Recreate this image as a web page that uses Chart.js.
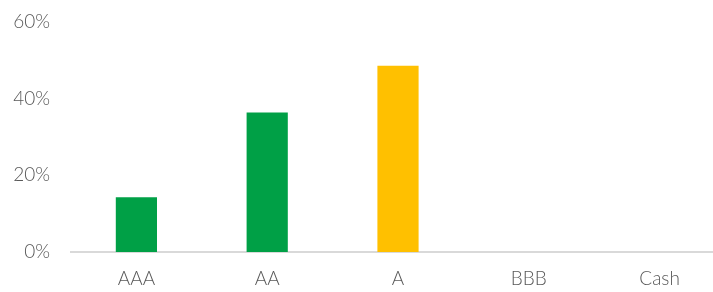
<!DOCTYPE html>
<html>
<head>
<meta charset="utf-8">
<script src="https://cdn.jsdelivr.net/npm/chart.js@4"></script>
<style>
  html, body { margin: 0; padding: 0; background: #fff; overflow: hidden; }
  #wrap { position: relative; width: 725px; height: 292px; }
</style>
</head>
<body>
<div id="wrap"><canvas id="ratings"></canvas></div>
<script>
// ── Data ─────────────────────────────────────────────────────
const categories = ["AAA", "AA", "A", "BBB", "Cash"];
const weights = [14.3, 36.4, 48.6, 0, 0];
const barColors = ["#00A046", "#00A046", "#FFC000", "#00A046", "#00A046"];
const yTicks = [0, 20, 40, 60];

const textColor = "#595959";
const font = { family: "Lato, 'Open Sans', sans-serif", size: 19, weight: 300 };

new Chart(document.getElementById("ratings"), {
    type: "bar",
    data: {
        labels: categories,
        datasets: [{
            data: weights,
            backgroundColor: barColors,
            categoryPercentage: 1,
            barPercentage: 0.315
        }]
    },
    options: {
        responsive: true,
        maintainAspectRatio: false,
        animation: false,
        layout: { padding: { top: 22, right: 0, bottom: 0, left: 0 } },
        plugins: { legend: { display: false }, tooltip: { enabled: false } },
        scales: {
            x: {
                grid: { display: false, drawTicks: false },
                border: { color: "#d9d9d9", width: 2 },
                ticks: { color: textColor, font, padding: 15 },
                afterFit: s => { s.height = 40; s.paddingLeft = 0; s.paddingRight = 0; }
            },
            y: {
                min: yTicks[0],
                max: yTicks[yTicks.length - 1],
                afterBuildTicks: s => { s.ticks = yTicks.map(v => ({ value: v })); },
                grid: { display: false, drawTicks: false },
                border: { display: false },
                ticks: { color: textColor, font, padding: 21, callback: v => v + "%" },
                afterFit: s => { s.width = 71; s.paddingTop = 0; s.paddingBottom = 0; }
            }
        }
    }
});
</script>
</body>
</html>
